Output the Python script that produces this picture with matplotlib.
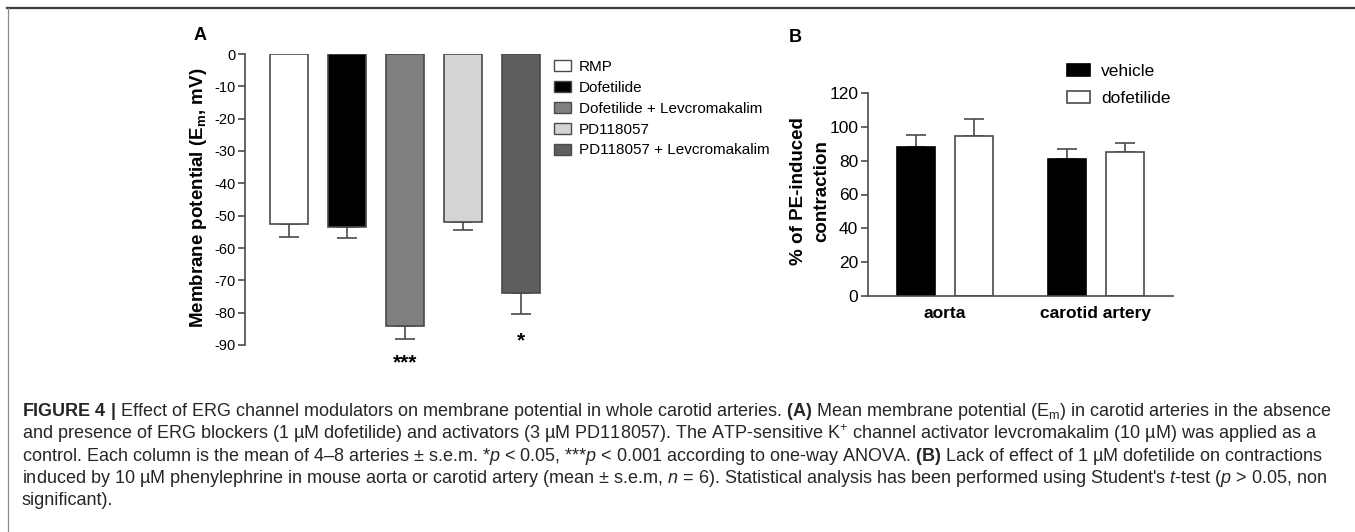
import numpy as np
import matplotlib
matplotlib.use("Agg")
import matplotlib.pyplot as plt
from matplotlib.patches import Patch
from matplotlib.lines import Line2D
from matplotlib import font_manager

# Panel A: membrane potential (mV), mean and s.e.m. (downward only)
groups_a = ['RMP', 'Dofetilide', 'Dofetilide + Levcromakalim',
            'PD118057', 'PD118057 + Levcromakalim']
em_mean = [-52.5, -53.5, -84.0, -52.0, -74.0]
em_sem = [4.0, 3.5, 4.0, 2.5, 6.5]
stars_a = ['', '', '***', '', '*']
colors_a = ['white', 'black', '#7f7f7f', '#d4d4d4', '#5e5e5e']
yticks_a = [0, -10, -20, -30, -40, -50, -60, -70, -80, -90]

# Panel B: % of PE-induced contraction
tissues = ['aorta', 'carotid artery']
treatments = ['vehicle', 'dofetilide']
pe_mean = {'vehicle': [88.0, 81.0], 'dofetilide': [94.5, 85.0]}
pe_sem = {'vehicle': [7.0, 6.0], 'dofetilide': [10.0, 5.5]}
colors_b = {'vehicle': 'black', 'dofetilide': 'white'}
yticks_b = [0, 20, 40, 60, 80, 100, 120]

W, H = 1355, 532
EDGE = '#4a4a4a'

plt.rcParams['font.family'] = ['Liberation Sans', 'DejaVu Sans']
plt.rcParams['axes.unicode_minus'] = False

# caption font: narrow if it is there
cap_family = 'Liberation Sans'
try:
    font_manager.findfont('Liberation Sans Narrow', fallback_to_default=False)
    cap_family = 'Liberation Sans Narrow'
except Exception:
    pass
plt.rcParams['mathtext.fontset'] = 'custom'
plt.rcParams['mathtext.rm'] = cap_family
plt.rcParams['mathtext.it'] = cap_family + ':italic'
plt.rcParams['mathtext.bf'] = cap_family + ':bold'


def fx(px):
    return px / W


def fy(py):
    return 1 - py / H


fig = plt.figure(figsize=(W / 100, H / 100), dpi=100)

# ---------------- panel A ----------------
axA = fig.add_axes([fx(245), fy(345), 300 / W, 291 / H])
xa = np.arange(len(groups_a))
axA.bar(xa, em_mean, width=0.655, color=colors_a, edgecolor=EDGE,
        linewidth=1.2, zorder=2)
axA.errorbar(xa, em_mean, yerr=[em_sem, [0] * len(em_sem)], fmt='none',
             ecolor=EDGE, elinewidth=1.2, capsize=7, capthick=1.2, zorder=1)
for i, s in enumerate(stars_a):
    if s:
        y = em_mean[i] - em_sem[i] - (4.7 if len(s) > 1 else 5.2)
        axA.text(i, y, s, ha='center', va='top', fontsize=15,
                 fontweight='bold', clip_on=False)
axA.set_xlim(-44 / 58, 256 / 58)
axA.set_ylim(-90, 0)
axA.set_yticks(yticks_a)
axA.set_xticks([])
for sp in ['top', 'right', 'bottom']:
    axA.spines[sp].set_visible(False)
axA.spines['left'].set_color(EDGE)
axA.spines['left'].set_linewidth(1.2)
axA.tick_params(axis='y', direction='out', length=5, width=1.2,
                color=EDGE, labelsize=10.5, pad=2)
axA.set_ylabel(r'Membrane potential (E$_\mathbf{m}$, mV)', fontsize=13.5,
               fontweight='bold')
axA.yaxis.set_label_coords(-0.12, 0.505)
handles_a = [Patch(facecolor=c, edgecolor=EDGE, linewidth=1.0)
             for c in colors_a]
fig.legend(handles_a, groups_a, loc='upper left',
           bbox_to_anchor=(fx(554), fy(60)), frameon=False, fontsize=11,
           borderpad=0, borderaxespad=0, handlelength=1.1, handleheight=0.72,
           handletextpad=0.55, labelspacing=0.45)
fig.text(fx(200), fy(35), 'A', fontsize=13, fontweight='bold',
         ha='center', va='center')

# ---------------- panel B ----------------
axB = fig.add_axes([fx(868), fy(296), 305 / W, 203 / H])
xb = np.arange(len(tissues))
bw = 0.25
offs = [-0.19, 0.19]
for k, tr in enumerate(treatments):
    axB.bar(xb + offs[k], pe_mean[tr], width=bw, color=colors_b[tr],
            edgecolor=EDGE if tr != 'vehicle' else 'black', linewidth=1.2,
            label=tr, zorder=2)
    axB.errorbar(xb + offs[k], pe_mean[tr],
                 yerr=[[0] * len(tissues), pe_sem[tr]], fmt='none',
                 ecolor=EDGE, elinewidth=1.2, capsize=7, capthick=1.2,
                 zorder=1)
axB.set_xlim(-0.51, 1.51)
axB.set_ylim(0, 120)
axB.set_yticks(yticks_b)
axB.set_xticks(xb)
axB.set_xticklabels(tissues, fontweight='bold', fontsize=12.5)
for sp in ['top', 'right']:
    axB.spines[sp].set_visible(False)
for sp in ['left', 'bottom']:
    axB.spines[sp].set_color(EDGE)
    axB.spines[sp].set_linewidth(1.2)
axB.tick_params(axis='y', direction='out', length=5, width=1.2,
                color=EDGE, labelsize=12.5, pad=2)
axB.tick_params(axis='x', length=0, pad=7)
axB.set_ylabel('% of PE-induced\ncontraction', fontsize=13.5,
               fontweight='bold', linespacing=1.45)
axB.yaxis.set_label_coords(-0.125, 0.515)
fig.legend(loc='upper left', bbox_to_anchor=(fx(1067), fy(64)),
           frameon=False, fontsize=12.5, borderpad=0, borderaxespad=0,
           handlelength=1.3, handleheight=0.65, handletextpad=0.65,
           labelspacing=0.68)
fig.text(fx(795), fy(37), 'B', fontsize=13, fontweight='bold',
         ha='center', va='center')

# ---------------- frame lines ----------------
fig.add_artist(Line2D([fx(7), 1], [fy(8), fy(8)], color='#3c3c3c',
                      linewidth=1.6, transform=fig.transFigure))
fig.add_artist(Line2D([fx(8), fx(8)], [fy(8), 0], color='#8a8a8a',
                      linewidth=0.9, transform=fig.transFigure))

# ---------------- caption ----------------
caption = [
    r'$\mathbf{FIGURE\ 4\ |}$ Effect of ERG channel modulators on membrane '
    r'potential in whole carotid arteries. $\mathbf{(A)}$ Mean membrane '
    r'potential (E$_\mathrm{m}$) in carotid arteries in the absence',
    r'and presence of ERG blockers (1 µM dofetilide) and activators '
    r'(3 µM PD118057). The ATP-sensitive K$^{+}$ channel activator '
    r'levcromakalim (10 µM) was applied as a',
    r'control. Each column is the mean of 4–8 arteries ± s.e.m. '
    r'*$\mathit{p}$ < 0.05, ***$\mathit{p}$ < 0.001 according to '
    r'one-way ANOVA. $\mathbf{(B)}$ Lack of effect of 1 µM dofetilide on '
    r'contractions',
    r'induced by 10 µM phenylephrine in mouse aorta or carotid artery '
    r'(mean ± s.e.m, $\mathit{n}$ = 6). Statistical analysis has been '
    r"performed using Student's $\mathit{t}$-test ($\mathit{p}$ > 0.05, non",
    r'significant).',
]
baselines = [416.5, 439, 461, 483, 505]
cap_x = 22
target = 1312.0

renderer = fig.canvas.get_renderer()
probe = fig.text(fx(cap_x), fy(baselines[0]), caption[0], fontsize=12,
                 family=cap_family)
wpx = probe.get_window_extent(renderer).width
probe.remove()
cap_size = 12 * target / wpx

for line, yb in zip(caption, baselines):
    fig.text(fx(cap_x), fy(yb), line, fontsize=cap_size, family=cap_family,
             color='#262626', ha='left', va='baseline')

fig.savefig('out.png', dpi=100)
